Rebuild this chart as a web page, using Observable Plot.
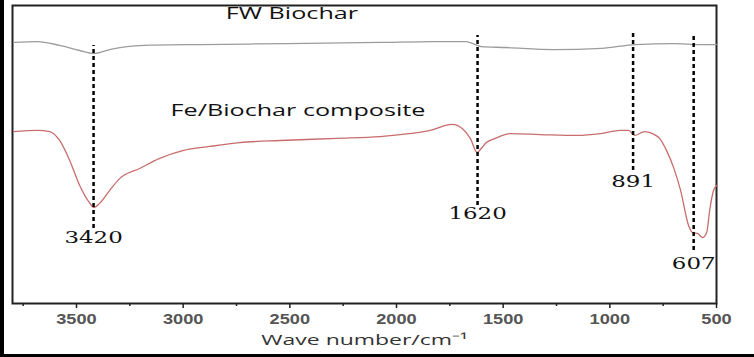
<!DOCTYPE html>
<html>
<head>
<meta charset="utf-8">
<script src="https://cdn.jsdelivr.net/npm/d3@7"></script>
<script src="https://cdn.jsdelivr.net/npm/@observablehq/plot@0.6"></script>
<style>
  html, body { margin: 0; padding: 0; background: #fff; }
  #wrap { position: relative; width: 754px; height: 357px; overflow: hidden; }
  .strip { position: absolute; background: #000; }
</style>
</head>
<body>
<div id="wrap"></div>
<script>
// Wavenumbers (cm^-1) and transmittance (a.u.)
const fwWave = [3795, 3683, 3579, 3485, 3420, 3345, 3185, 2922, 2509, 2077, 1828, 1673, 1631, 1603, 1490, 1265, 1039, 880, 701, 575, 500];
const fwT    = [87.6, 87.9, 86.6, 84.9, 83.9, 85.2, 86.6, 86.9, 87.2, 87.6, 87.9, 87.9, 86.9, 86.2, 85.9, 85.2, 85.6, 86.9, 87.2, 86.9, 86.9];

const feWave = [3795, 3683, 3626, 3579, 3532, 3485, 3437, 3420, 3392, 3345, 3298, 3204, 3110, 3002, 2875, 2734, 2546, 2279, 2077, 1941, 1842, 1739, 1692, 1654, 1622, 1603, 1579, 1537, 1467, 1326, 1152, 1044, 950, 912, 884, 837, 800, 767, 734, 701, 668, 631, 612, 589, 565, 546, 532, 514, 500];
const feT    = [57.7, 58.1, 57.7, 54.7, 48.0, 39.6, 33.6, 32.2, 33.6, 37.9, 41.9, 45.3, 48.7, 51.3, 52.7, 54.0, 54.7, 55.4, 56.0, 57.0, 58.1, 60.1, 58.7, 55.4, 50.7, 52.0, 54.0, 55.4, 57.0, 56.7, 56.4, 57.0, 58.1, 58.1, 56.4, 57.7, 57.0, 55.4, 51.3, 45.6, 37.9, 26.2, 23.8, 23.5, 22.1, 23.8, 31.2, 37.9, 39.6];

// Marked peaks
const peaks      = [3420, 1620, 891, 607];
const peakTop    = [86.6, 89.9, 90.6, 90.6];
const peakBottom = [25.2, 32.9, 44.6, 17.8];
const peakLabelY = [22.1, 30.2, 40.9, 13.4];

// Series labels
const seriesNames  = ["FW Biochar", "Fe/Biochar composite"];
const seriesLabelX = [2490, 2462];
const seriesLabelY = [97.2, 64.8];

const majorTicks = [3500, 3000, 2500, 2000, 1500, 1000, 500];
const minorTicks = [3750, 3250, 2750, 2250, 1750, 1250, 750];
const xTitle = "Wave number/cm\u207B\u00B9";

const fw = fwWave.map((w, i) => ({w, t: fwT[i]}));
const fe = feWave.map((w, i) => ({w, t: feT[i]}));
const pk = peaks.map((p, i) => ({p, top: peakTop[i], bot: peakBottom[i], ly: peakLabelY[i]}));
const sl = seriesNames.map((n, i) => ({n, x: seriesLabelX[i], y: seriesLabelY[i]}));

const chart = Plot.plot({
  width: 754,
  height: 357,
  marginLeft: 12,
  marginRight: 38,
  marginTop: 5,
  marginBottom: 54,
  style: {background: "transparent", overflow: "visible"},
  x: {domain: [3800, 500]},
  y: {domain: [0, 100], axis: null},
  marks: [
    Plot.frame({stroke: "#222", strokeWidth: 2}),
    Plot.axisX({ticks: minorTicks, tickFormat: () => "", tickSize: 3, stroke: "#222", strokeWidth: 1.5, label: null}),
    Plot.axisX({ticks: majorTicks, tickFormat: d => String(d), tickSize: 5, tickPadding: 6, stroke: "#222", strokeWidth: 1.5,
      fontSize: 14, fontWeight: "bold", fill: "#555", fontFamily: "Liberation Sans, Arial, sans-serif", label: null, className: "sx-tick"}),
    Plot.text([xTitle], {frameAnchor: "bottom", dy: 41, fontSize: 15, fill: "#333", fontFamily: "Open Sans, sans-serif", className: "sx-title"}),
    Plot.line(fw, {x: "w", y: "t", stroke: "#9c9c9c", strokeWidth: 1.3, curve: "monotone-x"}),
    Plot.line(fe, {x: "w", y: "t", stroke: "#c86c6c", strokeWidth: 1.3, curve: "monotone-x"}),
    Plot.ruleX(pk, {x: "p", y1: "bot", y2: "top", stroke: "#000", strokeWidth: 2.5, strokeDasharray: "4,3"}),
    Plot.text(pk, {x: "p", y: "ly", text: d => String(d.p), fontSize: 17, fill: "#111", fontFamily: "DejaVu Serif, serif", className: "sx-peak"}),
    Plot.text(sl, {x: "x", y: "y", text: "n", fontSize: 17, fill: "#111", fontFamily: "Open Sans, sans-serif", className: "sx-series"})
  ]
});

const wrap = document.getElementById("wrap");
wrap.appendChild(chart);

// The reference text is horizontally stretched; widen glyphs to match
const stretch = {"sx-tick": 1.3, "sx-title": 1.53, "sx-peak": 1.35, "sx-series": 1.48};
for (const [cls, f] of Object.entries(stretch)) {
  chart.querySelectorAll("." + cls + " text").forEach(t => {
    const w = t.getComputedTextLength();
    t.setAttribute("textLength", (w * f).toFixed(1));
    t.setAttribute("lengthAdjust", "spacingAndGlyphs");
  });
}

const l = document.createElement("div");
l.className = "strip";
l.style.cssText = "left:0;top:0;width:4px;height:357px;";
wrap.appendChild(l);
const b = document.createElement("div");
b.className = "strip";
b.style.cssText = "left:0;bottom:0;width:754px;height:3px;";
wrap.appendChild(b);
</script>
</body>
</html>
